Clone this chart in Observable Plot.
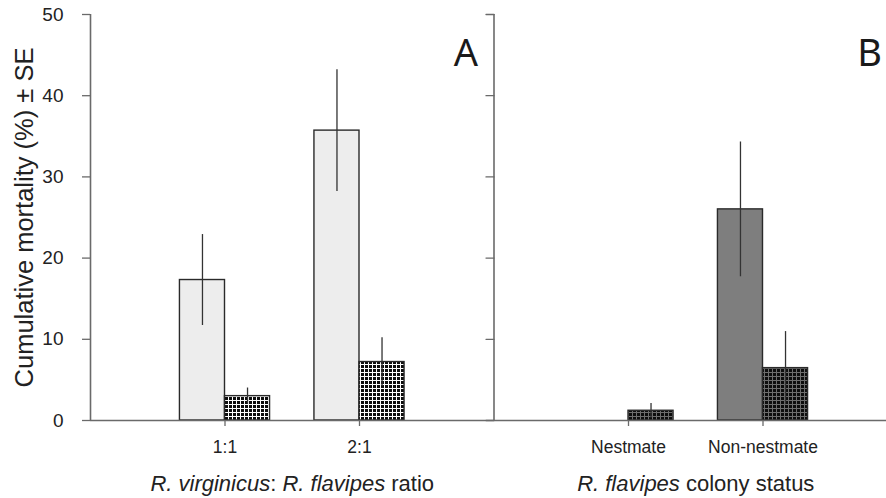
<!DOCTYPE html>
<html><head><meta charset="utf-8">
<script src="https://cdn.jsdelivr.net/npm/d3@7"></script>
<script src="https://cdn.jsdelivr.net/npm/@observablehq/plot@0.6"></script>
<style>
html,body{margin:0;padding:0;background:#fff;}
#chart svg{display:block;}
</style></head><body><div id="chart"></div>
<script>
// ---- data ----
const panels = ["A", "B"];
const panelTitles = ["R. virginicus: R. flavipes ratio", "R. flavipes colony status"];
const panelTitleItalic = [["R. virginicus", "R. flavipes"], ["R. flavipes"]];
const categories = ["1:1", "2:1", "Nestmate", "Non-nestmate"];
const categoryPanel = ["A", "A", "B", "B"];
const plainMean = [17.3, 35.7, 0, 26.0];   // open / grey bars
const plainSE = [5.6, 7.5, 0, 8.3];
const dottedMean = [3.0, 7.2, 1.2, 6.45];  // patterned bars
const dottedSE = [1.0, 3.0, 0.9, 4.5];
const yTicks = [0, 10, 20, 30, 40, 50];
const yTitle = "Cumulative mortality (%) ± SE";

// ---- layout helpers (slots along a linear x scale) ----
const slotsPerPanel = 3;
const barW = 0.335;
const rows = [];
categories.forEach((c, i) => {
  const p = categoryPanel[i];
  const pIdx = panels.indexOf(p);
  const local = categories.filter((_, j) => categoryPanel[j] === p).indexOf(c);
  const slot = pIdx * slotsPerPanel + local + 1;
  rows.push({cat: c, panel: p, slot, series: 0, value: plainMean[i], se: plainSE[i]});
  rows.push({cat: c, panel: p, slot, series: 1, value: dottedMean[i], se: dottedSE[i]});
});
rows.forEach(d => { d.x1 = d.slot - barW + d.series * barW; d.x2 = d.x1 + barW; d.xc = (d.x1 + d.x2) / 2; });
const tickSlots = Array.from(new Set(rows.map(d => d.slot)));
const slotLabel = new Map(rows.map(d => [d.slot, d.cat]));
const fillFor = d => d.series === 0
  ? (d.panel === "A" ? "#ededed" : "#7e7e7e")
  : (d.panel === "A" ? "url(#dotLight)" : "url(#dotDark)");
const panelEnds = panels.map((p, i) => (i + 1) * slotsPerPanel);
const panelMids = panels.map((p, i) => i * slotsPerPanel + slotsPerPanel / 2);

const font = "'Liberation Sans', Arial, sans-serif";
const axisColor = "#6a6a6a";
const tickShape = {draw(ctx, l) { ctx.moveTo(0, 0); ctx.lineTo(0, -l); }};

const chart = Plot.plot({
  width: 886,
  height: 498,
  marginLeft: 90,
  marginRight: 0,
  marginTop: 14,
  marginBottom: 78,
  style: {fontFamily: font, background: "#fff", color: "#222"},
  x: {domain: [0, panels.length * slotsPerPanel], range: [90, 897], axis: null},
  y: {domain: [0, 50], axis: null},
  color: {type: "identity"},
  marks: [
    Plot.rect(rows.filter(d => d.value > 0), {
      x1: "x1", x2: "x2", y1: 0, y2: "value",
      fill: fillFor, stroke: "#2a2a2a", strokeWidth: 1.4
    }),
    Plot.ruleX(rows.filter(d => d.se > 0), {
      x: "xc", y1: d => d.value - d.se, y2: d => d.value + d.se,
      stroke: "#333", strokeWidth: 1.3
    }),
    Plot.ruleY([0], {stroke: axisColor, strokeWidth: 1.6}),
    Plot.ruleX([0, panelEnds[0]], {y1: 0, y2: 50, stroke: axisColor, strokeWidth: 1.6}),
    Plot.vector(yTicks, {x: panelEnds[0], y: d => d, length: 8, rotate: -90, anchor: "start",
      shape: tickShape, stroke: axisColor, strokeWidth: 1.3}),
    Plot.axisY(yTicks, {tickSize: 8, tickPadding: 19, fontSize: 19, stroke: axisColor,
      strokeWidth: 1.3, fill: "#222", label: null}),
    Plot.axisX(tickSlots, {tickSize: 6, tickPadding: 14, fontSize: 17.5, stroke: axisColor,
      strokeWidth: 1.3, fill: "#222", tickFormat: s => slotLabel.get(s), label: null}),
    Plot.text(panels, {x: (d, i) => panelEnds[i], frameAnchor: "top", lineAnchor: "middle",
      dx: -28, dy: 39, text: d => d, fontSize: 38,
      fontFamily: "'Noto Sans', 'Open Sans', sans-serif", fill: "#1a1a1a"}),
    Plot.text(panelTitles, {x: (d, i) => panelMids[i], frameAnchor: "bottom", lineAnchor: "middle",
      dy: 63, text: d => d, fontSize: 22, fill: "#222"}),
    Plot.text([yTitle], {frameAnchor: "left", textAnchor: "middle", lineAnchor: "middle",
      dx: -66, rotate: -90, text: d => d, fontSize: 25.5, fill: "#222"})
  ]
});

document.getElementById("chart").appendChild(chart);
const svg = chart.tagName.toLowerCase() === "svg" ? chart : chart.querySelector("svg");

// dot patterns
const defs = d3.select(svg).insert("defs", ":first-child");
function dotPattern(id, bg) {
  const s = 4;
  const p = defs.append("pattern").attr("id", id).attr("patternUnits", "userSpaceOnUse")
    .attr("width", s).attr("height", s);
  p.append("rect").attr("width", s).attr("height", s).attr("fill", bg);
  p.append("rect").attr("x", 1).attr("y", 1).attr("width", 3).attr("height", 3).attr("fill", "#0d0d0d");
}
dotPattern("dotLight", "#ffffff");
dotPattern("dotDark", "#6e6e6e");

// italic segments in panel titles
d3.select(svg).selectAll("text").each(function () {
  const t = this.textContent;
  const idx = panelTitles.indexOf(t);
  if (idx < 0) return;
  const ital = panelTitleItalic[idx];
  const parts = [];
  let rest = t;
  while (rest.length) {
    let best = null, bi = Infinity;
    for (const s of ital) { const k = rest.indexOf(s); if (k >= 0 && k < bi) { bi = k; best = s; } }
    if (best === null) { parts.push([rest, false]); break; }
    if (bi > 0) parts.push([rest.slice(0, bi), false]);
    parts.push([best, true]);
    rest = rest.slice(bi + best.length);
  }
  const el = d3.select(this);
  el.text(null);
  for (const [s, it] of parts) el.append("tspan").attr("font-style", it ? "italic" : "normal").text(s);
});
</script></body></html>
